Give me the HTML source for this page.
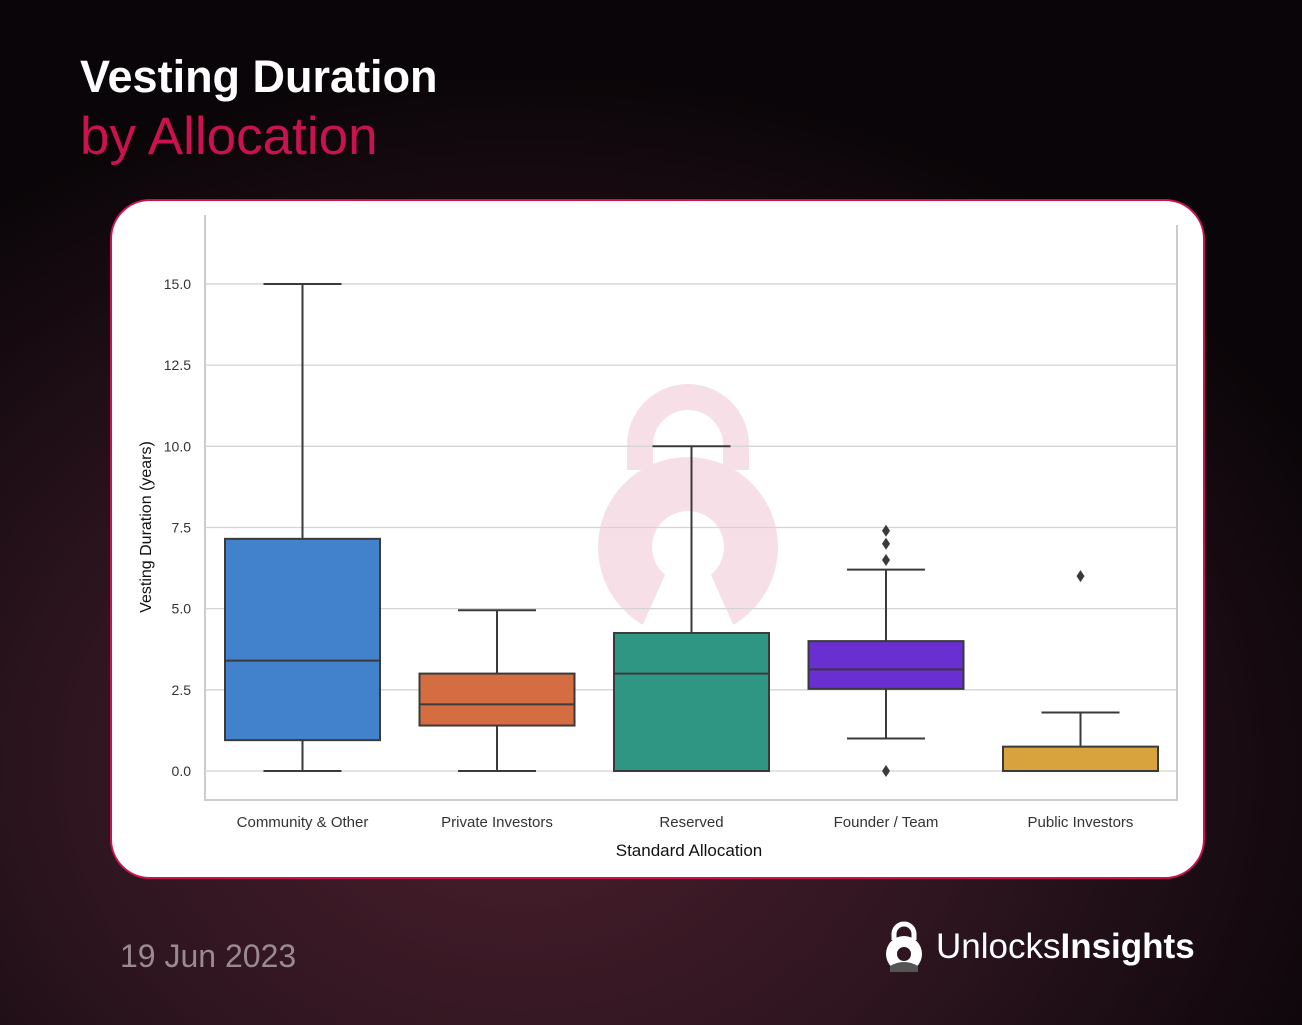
<!DOCTYPE html>
<html><head><meta charset="utf-8"><style>
html,body{margin:0;padding:0}
body{width:1302px;height:1025px;overflow:hidden;position:relative;font-family:"Liberation Sans",sans-serif;
background:radial-gradient(ellipse 900px 700px at 40% 75%,#4a1e2c 0%,#2e1520 50%,#0a0508 100%);}
.t1{position:absolute;left:80px;top:51px;color:#fff;font-size:45px;font-weight:bold;}
.t2{position:absolute;left:80px;top:106px;color:#c8134e;font-size:53px;}
.card{position:absolute;left:110px;top:199px;width:1091px;height:676px;background:#fff;border:2px solid #c8134e;border-radius:40px;}
.date{position:absolute;left:120px;top:938px;color:#9a8a90;font-size:32px;}
.logo{position:absolute;left:936px;top:927px;color:#fff;font-size:35px;}
</style></head><body>
<div class="t1">Vesting Duration</div>
<div class="t2">by Allocation</div>
<div class="card"></div>
<svg width="1302" height="1025" style="position:absolute;left:0;top:0" id="chart">
<g opacity="0.13">
<path d="M640,470 L640,445 A48,48 0 0 1 736,445 L736,470" fill="none" stroke="#c8134e" stroke-width="26"/>
<circle cx="688" cy="547" r="90" fill="#c8134e"/>
<circle cx="688" cy="547" r="36" fill="#fff"/>
<path d="M665,575 L711,575 L740,640 L636,640Z" fill="#fff"/>
</g>
</svg>
<div class="date">19 Jun 2023</div>
<svg style="position:absolute;left:880px;top:918px" width="50" height="60">
<path d="M14,22 L14,16 A10,10 0 0 1 34,16 L34,22" fill="none" stroke="#fff" stroke-width="5"/>
<circle cx="24" cy="36" r="18" fill="#fff"/><circle cx="24" cy="36" r="7" fill="#2e1520"/>
<path d="M10,48 Q24,40 38,48 L38,54 L10,54Z" fill="#555"/>
</svg>
<div class="logo">Unlocks<b>Insights</b></div>
<script>
const categories=["Community & Other","Private Investors","Reserved","Founder / Team","Public Investors"];
const whiskerLow=[0,0,0,1.0,0];
const q1=[0.95,1.4,0,2.53,0];
const medians=[3.4,2.05,3.0,3.13,0];
const q3=[7.15,3.0,4.25,4.0,0.75];
const whiskerHigh=[15,4.95,10,6.2,1.8];
const outliers=[[],[],[],[0,6.5,7.0,7.4],[6.0]];
const colors=["#4282cc","#d46d41","#2f9683","#6a2fd0","#d8a23c"];
const yTicks=[0,2.5,5,7.5,10,12.5,15];
const ns="http://www.w3.org/2000/svg";
const svg=document.getElementById('chart');
const L=205,R=1177,B=800;
const y=v=>771-v*32.47;
const x=i=>302.5+i*194.5;
const bw=155;
function mk(t,a,p){const e=document.createElementNS(ns,t);for(const k in a)e.setAttribute(k,a[k]);(p||svg).appendChild(e);return e;}
yTicks.forEach(v=>{
 const l=mk('line',{x1:L,x2:R,y1:y(v),y2:y(v),stroke:'#d4d4d4','stroke-width':1.3});
 
 
 const t=mk('text',{x:191,y:y(v)+5,'text-anchor':'end','font-size':14,fill:'#333','font-family':'Liberation Sans'});
 t.textContent=v.toFixed(1);
 
 
});
let ax=mk('path',{d:`M${L},215 L${L},${B} L${R},${B} L${R},225`,fill:'none',stroke:'#ccc','stroke-width':2});


categories.forEach((c,i)=>{
 const g=mk('g',{});
 
 
 const cx=x(i),s='#3a3a3a';
 mk('line',{x1:cx,x2:cx,y1:y(q3[i]),y2:y(whiskerHigh[i]),stroke:s,'stroke-width':2},g);
 mk('line',{x1:cx,x2:cx,y1:y(q1[i]),y2:y(whiskerLow[i]),stroke:s,'stroke-width':2},g);
 mk('line',{x1:cx-39,x2:cx+39,y1:y(whiskerHigh[i]),y2:y(whiskerHigh[i]),stroke:s,'stroke-width':2},g);
 mk('line',{x1:cx-39,x2:cx+39,y1:y(whiskerLow[i]),y2:y(whiskerLow[i]),stroke:s,'stroke-width':2},g);
 mk('rect',{x:cx-bw/2,y:y(q3[i]),width:bw,height:y(q1[i])-y(q3[i]),fill:colors[i],stroke:s,'stroke-width':2},g);
 mk('line',{x1:cx-bw/2,x2:cx+bw/2,y1:y(medians[i]),y2:y(medians[i]),stroke:s,'stroke-width':2},g);
 outliers[i].forEach(v=>{
  const d=mk('path',{d:`M${cx},${y(v)-6} L${cx+4},${y(v)} L${cx},${y(v)+6} L${cx-4},${y(v)}Z`,fill:s},g);
  
  
 });
 const t=mk('text',{x:cx,y:827,'text-anchor':'middle','font-size':15,fill:'#333','font-family':'Liberation Sans'});
 t.textContent=c;
 
 
});
let xt=mk('text',{x:689,y:856,'text-anchor':'middle','font-size':17,fill:'#111','font-family':'Liberation Sans'});
xt.textContent='Standard Allocation';


let yt=mk('text',{x:0,y:0,'text-anchor':'middle','font-size':16,fill:'#111','font-family':'Liberation Sans',transform:'translate(151,527) rotate(-90)'});
yt.textContent='Vesting Duration (years)';


</script>
</body></html>
